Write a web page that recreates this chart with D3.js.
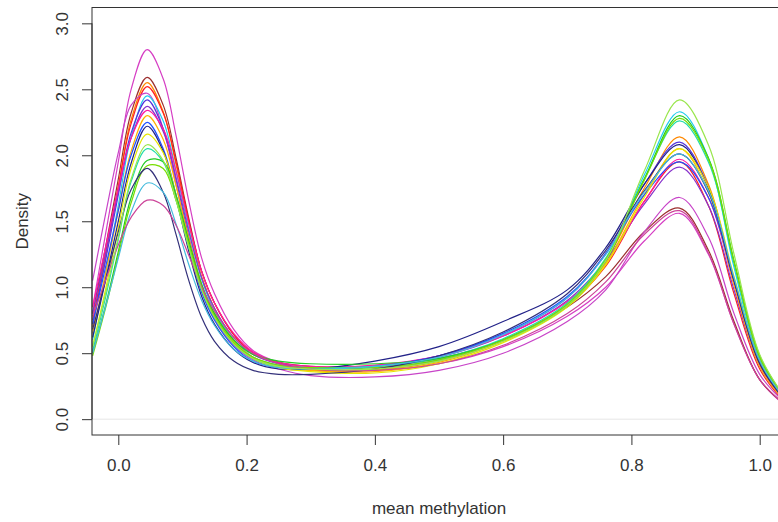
<!DOCTYPE html>
<html>
<head>
<meta charset="utf-8">
<script src="https://cdn.jsdelivr.net/npm/d3@7"></script>
<style>
  body { margin: 0; background: #fff; }
  .chart text { font-family: "Liberation Sans", Arial, sans-serif; fill: #333; }
</style>
</head>
<body>
<div class="chart"></div>
<script>
const densityX = [-0.04, -0.02, 0.0, 0.02, 0.045, 0.07, 0.09, 0.11, 0.13, 0.15, 0.18, 0.21, 0.25,
  0.3, 0.4, 0.5, 0.6, 0.7, 0.76, 0.82, 0.875, 0.92, 0.96, 1.0, 1.04];

const sampleColors = ['#d63fc4', '#9c3030', '#ff8800', '#ff2020', '#c844c8', '#22ccee', '#5533dd',
  '#8833cc', '#ff1aa0', '#ffb000', '#1f4fff', '#222288', '#e6e600', '#22ddaa', '#22cc22',
  '#77dd00', '#33307a', '#44bbdd', '#cc4499', '#99e64d'];

const densityY = [
  [0.85, 1.40, 1.95, 2.50, 2.80, 2.58, 2.15, 1.65, 1.22, 0.95, 0.68, 0.52, 0.43, 0.38, 0.37, 0.42, 0.55, 0.78, 1.00, 1.35, 1.56, 1.25, 0.72, 0.30, 0.10],
  [0.80, 1.30, 1.82, 2.32, 2.59, 2.38, 1.98, 1.52, 1.12, 0.88, 0.64, 0.50, 0.43, 0.40, 0.40, 0.46, 0.60, 0.85, 1.08, 1.42, 1.60, 1.28, 0.74, 0.30, 0.11],
  [0.70, 1.22, 1.76, 2.27, 2.55, 2.33, 1.93, 1.48, 1.08, 0.84, 0.60, 0.47, 0.40, 0.37, 0.37, 0.44, 0.60, 0.87, 1.20, 1.75, 2.14, 1.78, 1.05, 0.42, 0.13],
  [0.75, 1.25, 1.76, 2.24, 2.52, 2.32, 1.95, 1.50, 1.12, 0.88, 0.64, 0.50, 0.42, 0.38, 0.38, 0.45, 0.60, 0.86, 1.16, 1.65, 1.95, 1.62, 0.95, 0.38, 0.12],
  [1.05, 1.55, 2.02, 2.38, 2.47, 2.20, 1.78, 1.33, 0.98, 0.76, 0.56, 0.45, 0.38, 0.33, 0.32, 0.37, 0.50, 0.74, 0.98, 1.42, 1.68, 1.38, 0.80, 0.34, 0.12],
  [0.60, 1.10, 1.62, 2.14, 2.45, 2.26, 1.88, 1.44, 1.06, 0.82, 0.60, 0.47, 0.41, 0.39, 0.39, 0.45, 0.60, 0.86, 1.20, 1.85, 2.33, 1.98, 1.15, 0.45, 0.14],
  [0.72, 1.20, 1.70, 2.17, 2.42, 2.20, 1.82, 1.38, 1.02, 0.79, 0.58, 0.46, 0.40, 0.38, 0.40, 0.48, 0.64, 0.92, 1.26, 1.78, 2.10, 1.76, 1.05, 0.43, 0.14],
  [0.80, 1.25, 1.72, 2.13, 2.37, 2.18, 1.83, 1.42, 1.07, 0.84, 0.62, 0.49, 0.42, 0.39, 0.40, 0.47, 0.63, 0.90, 1.20, 1.63, 1.91, 1.62, 0.98, 0.40, 0.13],
  [0.85, 1.30, 1.75, 2.13, 2.34, 2.20, 1.88, 1.48, 1.12, 0.88, 0.65, 0.51, 0.43, 0.40, 0.41, 0.48, 0.63, 0.89, 1.18, 1.65, 1.97, 1.68, 1.02, 0.41, 0.13],
  [0.65, 1.10, 1.58, 2.03, 2.30, 2.12, 1.77, 1.37, 1.02, 0.80, 0.59, 0.47, 0.40, 0.37, 0.36, 0.43, 0.59, 0.86, 1.18, 1.70, 2.05, 1.72, 1.02, 0.40, 0.13],
  [0.72, 1.15, 1.58, 2.00, 2.25, 2.05, 1.70, 1.30, 0.96, 0.75, 0.55, 0.44, 0.39, 0.38, 0.40, 0.48, 0.65, 0.93, 1.25, 1.70, 1.95, 1.68, 1.05, 0.44, 0.15],
  [0.62, 1.05, 1.50, 1.94, 2.22, 2.03, 1.68, 1.27, 0.93, 0.72, 0.53, 0.43, 0.38, 0.38, 0.44, 0.55, 0.74, 0.98, 1.30, 1.78, 2.08, 1.75, 1.05, 0.42, 0.14],
  [0.55, 0.98, 1.45, 1.90, 2.16, 2.02, 1.70, 1.32, 0.99, 0.78, 0.58, 0.46, 0.39, 0.36, 0.35, 0.42, 0.58, 0.85, 1.17, 1.68, 2.05, 1.76, 1.08, 0.44, 0.15],
  [0.52, 0.92, 1.36, 1.80, 2.05, 1.95, 1.66, 1.30, 0.98, 0.77, 0.57, 0.46, 0.40, 0.39, 0.40, 0.46, 0.61, 0.88, 1.22, 1.82, 2.26, 1.95, 1.18, 0.47, 0.15],
  [0.50, 0.86, 1.27, 1.68, 1.96, 1.95, 1.70, 1.35, 1.02, 0.80, 0.60, 0.49, 0.44, 0.42, 0.42, 0.46, 0.60, 0.86, 1.20, 1.82, 2.30, 1.98, 1.20, 0.48, 0.16],
  [0.48, 0.84, 1.24, 1.64, 1.92, 1.90, 1.66, 1.32, 1.00, 0.78, 0.58, 0.47, 0.41, 0.39, 0.39, 0.45, 0.60, 0.87, 1.21, 1.81, 2.28, 1.97, 1.19, 0.47, 0.15],
  [0.68, 1.05, 1.42, 1.74, 1.90, 1.72, 1.40, 1.05, 0.77, 0.59, 0.44, 0.37, 0.34, 0.34, 0.38, 0.48, 0.66, 0.95, 1.28, 1.73, 2.01, 1.72, 1.05, 0.43, 0.14],
  [0.50, 0.85, 1.22, 1.57, 1.79, 1.72, 1.48, 1.17, 0.90, 0.71, 0.53, 0.44, 0.39, 0.38, 0.40, 0.47, 0.64, 0.92, 1.25, 1.72, 2.01, 1.73, 1.07, 0.44, 0.15],
  [0.78, 1.05, 1.32, 1.53, 1.66, 1.62, 1.47, 1.24, 1.00, 0.82, 0.62, 0.50, 0.42, 0.38, 0.37, 0.42, 0.56, 0.80, 1.04, 1.40, 1.58, 1.26, 0.72, 0.30, 0.11],
  [0.55, 0.95, 1.38, 1.82, 2.08, 1.96, 1.66, 1.30, 0.98, 0.77, 0.57, 0.46, 0.40, 0.38, 0.38, 0.44, 0.59, 0.86, 1.20, 1.88, 2.42, 2.08, 1.25, 0.49, 0.16]
];

const xTicks = [0, 0.2, 0.4, 0.6, 0.8, 1.0];
const yTicks = [0, 0.5, 1.0, 1.5, 2.0, 2.5, 3.0];

const margin = { top: 7.5, right: 0, bottom: 87, left: 92 };
const width = 694;
const height = 427.5;

const svg = d3.select('.chart')
  .append('svg')
  .attr('width', 778)
  .attr('height', 522);

const g = svg.append('g')
  .attr('transform', `translate(${margin.left},${margin.top})`);

const x = d3.scaleLinear().domain([-0.041, 1.041]).range([0, width]);
const y = d3.scaleLinear().domain([-0.12, 3.12]).range([height, 0]);

g.append('clipPath')
  .attr('id', 'plot-clip')
  .append('rect')
  .attr('width', width)
  .attr('height', height);

// faint zero line like plot.density draws
g.append('line')
  .attr('x1', 0)
  .attr('x2', width)
  .attr('y1', y(0))
  .attr('y2', y(0))
  .attr('stroke', '#e6e6e6')
  .attr('stroke-width', 1);

const line = d3.line()
  .x((d, i) => x(densityX[i]))
  .y(d => y(d))
  .curve(d3.curveCatmullRom.alpha(0.5));

g.append('g')
  .attr('clip-path', 'url(#plot-clip)')
  .selectAll('path')
  .data(densityY)
  .enter()
  .append('path')
  .attr('fill', 'none')
  .attr('stroke', (d, i) => sampleColors[i])
  .attr('stroke-width', 1.2)
  .attr('d', d => line(d));

// box
g.append('rect')
  .attr('width', width)
  .attr('height', height)
  .attr('fill', 'none')
  .attr('stroke', '#333')
  .attr('stroke-width', 1);

const xAxis = g.append('g')
  .attr('transform', `translate(0,${height})`)
  .call(d3.axisBottom(x).tickValues(xTicks).tickFormat(d3.format('.1f')).tickSize(10).tickPadding(14));

const yAxis = g.append('g')
  .call(d3.axisLeft(y).tickValues(yTicks).tickFormat(d3.format('.1f')).tickSize(10));

[xAxis, yAxis].forEach(a => {
  a.select('.domain').remove();
  a.selectAll('line').attr('stroke', '#333');
  a.selectAll('text').style('font-size', '17px').attr('fill', '#333');
});

yAxis.selectAll('text')
  .attr('x', null)
  .attr('dy', null)
  .attr('text-anchor', 'middle')
  .attr('transform', 'translate(-30,0) rotate(-90)')
  .attr('dominant-baseline', 'central');

// the axis line only spans the first to last tick, over the box edge
g.append('line')
  .attr('x1', 0).attr('x2', 0)
  .attr('y1', y(0)).attr('y2', y(3))
  .attr('stroke', '#333');

svg.append('text')
  .attr('x', margin.left + width / 2)
  .attr('y', 514)
  .attr('text-anchor', 'middle')
  .style('font-size', '17px')
  .text('mean methylation');

svg.append('text')
  .attr('transform', `translate(22,${margin.top + height / 2}) rotate(-90)`)
  .attr('text-anchor', 'middle')
  .attr('dominant-baseline', 'central')
  .style('font-size', '17px')
  .text('Density');
</script>
</body>
</html>
